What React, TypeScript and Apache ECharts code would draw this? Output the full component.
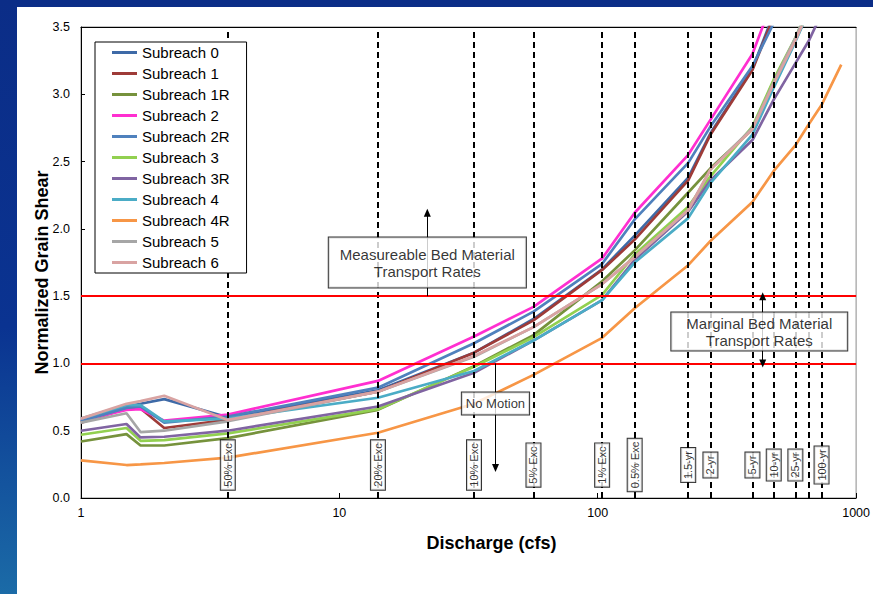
import React, { useEffect, useRef } from "react";
import * as echarts from "echarts";

const FONT = '"Liberation Sans", Arial, Helvetica, sans-serif';

// Discharge (cfs) at which each curve is evaluated
const flows = [1, 1.5, 1.7, 2.1, 3.7, 14.1, 33.2, 56.4, 104, 139, 224, 273, 397, 480, 582, 657, 735, 876];

const seriesNames = [
  "Subreach 0", "Subreach 1", "Subreach 1R", "Subreach 2", "Subreach 2R", "Subreach 3",
  "Subreach 3R", "Subreach 4", "Subreach 4R", "Subreach 5", "Subreach 6",
];
const seriesColors = [
  "#3e6aa7", "#9e3b38", "#76923c", "#ff2fd0", "#4f81bd", "#92d050",
  "#8064a2", "#4bacc6", "#f79646", "#a6a6a6", "#d9a3a2",
];

const sub0 = [0.57, 0.68, 0.70, 0.735, 0.60, 0.80, 1.08, 1.33, 1.70, 1.95, 2.38, 2.71, 3.19, 3.60, null, null, null, null];
const sub1 = [0.56, 0.665, 0.665, 0.52, 0.58, 0.79, 1.08, 1.32, 1.695, 1.92, 2.36, 2.70, 3.18, 3.58, null, null, null, null];
const sub1R = [0.42, 0.475, 0.39, 0.39, 0.445, 0.655, 0.98, 1.21, 1.61, 1.84, 2.27, 2.45, 2.74, 3.10, 3.40, 3.62, null, null];
const sub2 = [0.575, 0.655, 0.66, 0.575, 0.62, 0.87, 1.20, 1.42, 1.78, 2.12, 2.55, 2.81, 3.30, 3.72, null, null, null, null];
const sub2R = [0.57, 0.67, 0.68, 0.56, 0.605, 0.82, 1.15, 1.385, 1.74, 2.07, 2.49, 2.76, 3.21, 3.53, null, null, null, null];
const sub3 = [0.47, 0.52, 0.425, 0.43, 0.48, 0.66, 0.975, 1.195, 1.51, 1.81, 2.165, 2.39, 2.76, 3.11, 3.42, 3.65, null, null];
const sub3R = [0.50, 0.55, 0.45, 0.455, 0.50, 0.68, 0.93, 1.17, 1.47, 1.77, 2.13, 2.36, 2.66, 2.96, 3.23, 3.40, 3.60, null];
const sub4 = [0.59, 0.69, 0.69, 0.57, 0.59, 0.745, 0.944, 1.17, 1.47, 1.75, 2.08, 2.34, 2.70, 3.05, 3.39, 3.62, null, null];
const sub4R = [0.28, 0.245, 0.25, 0.26, 0.30, 0.485, 0.70, 0.915, 1.19, 1.41, 1.73, 1.91, 2.20, 2.43, 2.62, 2.78, 2.92, 3.22];
const sub5 = [0.56, 0.63, 0.49, 0.50, 0.57, 0.79, 1.05, 1.27, 1.59, 1.79, 2.14, 2.44, 2.75, 3.09, 3.42, 3.65, null, null];
const sub6 = [0.59, 0.70, 0.72, 0.76, 0.58, 0.79, 1.055, 1.27, 1.59, 1.79, 2.14, 2.44, 2.74, 3.08, 3.40, 3.63, null, null];
const seriesValues = [sub0, sub1, sub1R, sub2, sub2R, sub3, sub3R, sub4, sub4R, sub5, sub6];

// Reference discharges (exceedance / recurrence)
const refFlows = [3.7, 14.1, 33.2, 56.4, 104, 139, 224, 273, 397, 480, 582, 657, 735];
const refLabels = ["50% Exc", "20% Exc", "10% Exc", "5% Exc", "1% Exc", "0.5% Exc", "1.5-yr", "2-yr", "5-yr", "10-yr", "25-yr", "", "100-yr"];
const refLabelLevel = 0.245;

// Shear thresholds
const thresholds = [1.0, 1.5];

// Annotations
const noteTexts = ["Measureable Bed Material\nTransport Rates", "Marginal Bed Material\nTransport Rates", "No Motion"];
const noteX = [21.9, 422, 40.2];
const noteY = [1.75, 1.237, 0.702];
const arrowX = [21.9, 435, 40.2];
const arrowFrom = [1.5, 1.0, 1.0];
const arrowTo = [2.12, 1.5, 0.223];
const arrowBoth = [false, true, false];

const xTicks = [1, 10, 100, 1000];
const yTicks = [0, 0.5, 1.0, 1.5, 2.0, 2.5, 3.0, 3.5];

export default function App() {
  const ref = useRef<HTMLDivElement>(null);

  useEffect(() => {
    if (!ref.current) return;
    const chart = echarts.init(ref.current, null, { renderer: "svg" });

    const lineSeries = seriesNames.map((name, i) => ({
      name,
      type: "line",
      data: flows
        .map((f, j) => [f, seriesValues[i][j]])
        .filter((p) => p[1] !== null),
      symbol: "none",
      showSymbol: false,
      clip: true,
      silent: true,
      z: 2,
      lineStyle: { width: 2.7, color: seriesColors[i] },
      itemStyle: { color: seriesColors[i] },
    }));

    const noteLabelStyles = [
      { fontSize: 15, lineHeight: 17, padding: [8, 11] },
      { fontSize: 15, lineHeight: 17, padding: [2, 15] },
      { fontSize: 13, lineHeight: 16, padding: [3, 4] },
    ];

    const option: any = {
      animation: false,
      backgroundColor: "transparent",
      textStyle: { fontFamily: FONT },
      grid: {
        left: 81,
        right: 16,
        top: 27,
        bottom: 96,
        show: true,
        borderColor: "#8a8a8a",
        borderWidth: 1,
        backgroundColor: "transparent",
      },
      legend: {
        data: seriesNames,
        orient: "vertical",
        left: 95,
        top: 42,
        z: 10,
        padding: [3, 17, 3, 17],
        itemGap: 6,
        itemWidth: 25,
        itemHeight: 15,
        icon: "path://M0,0H25V3H0Z",
        symbolKeepAspect: true,
        backgroundColor: "#ffffff",
        borderColor: "#000000",
        borderWidth: 1,
        borderRadius: 0,
        selectedMode: false,
        textStyle: { fontSize: 15, fontFamily: FONT, color: "#000" },
      },
      xAxis: [
        {
          type: "log",
          logBase: 10,
          min: xTicks[0],
          max: xTicks[xTicks.length - 1],
          axisLine: { show: true, lineStyle: { color: "#000", width: 1 } },
          axisTick: { show: true, inside: true, length: 5, lineStyle: { color: "#000" } },
          minorTick: { show: false },
          splitLine: { show: false },
          axisLabel: {
            color: "#000",
            fontSize: 12.5,
            fontFamily: FONT,
            margin: 8,
            formatter: (v: number) => String(Math.round(v)),
          },
          name: "Discharge (cfs)",
          nameLocation: "middle",
          nameMoveOverlap: false,
          nameGap: 36,
          nameTextStyle: {
            fontSize: 18,
            fontWeight: "bold",
            fontFamily: FONT,
            color: "#000",
            padding: [0, 0, 0, 46],
          },
        },
        {
          type: "log",
          logBase: 10,
          position: "top",
          min: xTicks[0],
          max: xTicks[xTicks.length - 1],
          axisLine: { show: true, lineStyle: { color: "#000", width: 1 } },
          axisTick: { show: false },
          axisLabel: { show: false },
          splitLine: { show: false },
        },
      ],
      yAxis: {
        type: "value",
        min: yTicks[0],
        max: yTicks[yTicks.length - 1],
        interval: 0.5,
        axisLine: { show: true, lineStyle: { color: "#000", width: 1 } },
        axisTick: { show: true, inside: true, length: 4, lineStyle: { color: "#000" } },
        splitLine: { show: false },
        axisLabel: {
          color: "#000",
          fontSize: 12.5,
          fontFamily: FONT,
          margin: 11,
          formatter: (v: number) => v.toFixed(1),
        },
        name: "Normalized Grain Shear",
        nameLocation: "middle",
        nameMoveOverlap: false,
        nameRotate: 90,
        nameGap: 30,
        nameTextStyle: {
          fontSize: 18,
          fontWeight: "bold",
          fontFamily: FONT,
          color: "#000",
          padding: [0, 20, 0, 0],
        },
      },
      series: [
        ...lineSeries,
        {
          name: "refs",
          type: "line",
          data: [],
          silent: true,
          markLine: {
            silent: true,
            symbol: "none",
            z: 5,
            label: { show: false },
            emphasis: { disabled: true },
            data: [
              ...refFlows.map((f) => ({
                xAxis: f,
                lineStyle: { type: [6, 4], color: "#000", width: 2 },
              })),
              ...thresholds.map((t) => ({
                yAxis: t,
                lineStyle: { type: "solid", color: "#ff0000", width: 2 },
              })),
            ],
          },
        },
        {
          name: "arrows",
          type: "line",
          data: [],
          silent: true,
          markLine: {
            silent: true,
            z: 5,
            symbol: ["none", "triangle"],
            symbolSize: [7, 8],
            label: { show: false },
            emphasis: { disabled: true },
            lineStyle: { type: "solid", color: "#000", width: 1 },
            data: arrowX.map((x, i) => [
              { coord: [x, arrowFrom[i]], symbol: arrowBoth[i] ? "triangle" : "none" },
              { coord: [x, arrowTo[i]], symbol: "triangle" },
            ]),
          },
        },
        {
          name: "refLabels",
          type: "scatter",
          z: 7,
          silent: true,
          symbolSize: 1,
          itemStyle: { color: "rgba(0,0,0,0)" },
          data: refFlows
            .map((f, i) => ({ value: [f, refLabelLevel], name: refLabels[i] }))
            .filter((d) => d.name !== ""),
          label: {
            show: true,
            position: "inside",
            formatter: "{b}",
            rotate: 90,
            fontSize: 11,
            lineHeight: 12,
            fontFamily: FONT,
            color: "#000",
            backgroundColor: "#fff",
            borderColor: "#000",
            borderWidth: 1,
            padding: [1, 3],
          },
        },
        {
          name: "notes",
          type: "scatter",
          z: 7,
          silent: true,
          symbolSize: 1,
          itemStyle: { color: "rgba(0,0,0,0)" },
          data: noteTexts.map((t, i) => ({
            value: [noteX[i], noteY[i]],
            name: t,
            label: { ...noteLabelStyles[i] },
          })),
          label: {
            show: true,
            position: "inside",
            formatter: "{b}",
            align: "center",
            fontFamily: FONT,
            color: "#000",
            backgroundColor: "#fff",
            borderColor: "#000",
            borderWidth: 1,
          },
        },
      ],
    };

    chart.setOption(option);
    return () => chart.dispose();
  }, []);

  return (
    <div
      style={{
        position: "absolute",
        left: 0,
        top: 0,
        width: 873,
        height: 594,
        background: "linear-gradient(180deg, #0b2d87 0%, #0a3391 55%, #1b6ba7 100%)",
        overflow: "hidden",
      }}
    >
      <div
        style={{
          position: "absolute",
          left: 17,
          top: 7,
          width: 856,
          height: 587,
          background: "#ffffff",
        }}
      />
      <div
        ref={ref}
        style={{ position: "absolute", left: 0, top: 0, width: 873, height: 594 }}
      />
    </div>
  );
}
